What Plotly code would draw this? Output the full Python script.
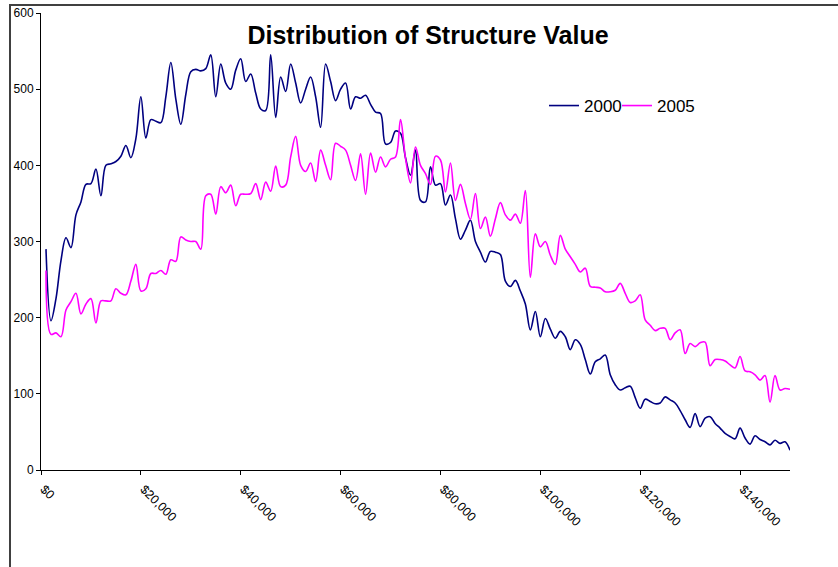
import plotly.graph_objects as go

# Structure value (thousands of dollars)
values_k = list(range(1, 151))

series_2000 = [
    290, 196, 225, 275, 305, 292, 335, 352, 375, 376,
    395, 360, 400, 402, 405, 412, 426, 410, 435, 490,
    436, 460, 458, 456, 490, 535, 487, 454, 493, 523,
    526, 524, 527, 545, 490, 533, 508, 500, 525, 540,
    510, 520, 495, 474, 472, 545, 463, 516, 497, 533,
    508, 482, 500, 516, 490, 450, 533, 510, 485, 500,
    508, 474, 490, 488, 492, 480, 470, 468, 428, 430,
    445, 442, 410, 387, 420, 354, 352, 398, 374, 376,
    348, 361, 330, 303, 315, 328, 300, 286, 273, 287,
    286, 283, 248, 241, 249, 235, 218, 184, 208, 175,
    199, 185, 173, 182, 175, 158, 171, 165, 145, 126,
    142, 146, 151, 125, 112, 105, 108, 110, 95, 81,
    93, 90, 87, 88, 96, 92, 88, 78, 66, 56,
    74, 57, 68, 70, 61, 55, 48, 44, 41, 55,
    42, 34, 45, 40, 37, 33, 39, 35, 37, 26,
]

series_2005 = [
    262, 178, 180, 175, 210, 221, 232, 205, 218, 225,
    193, 222, 222, 222, 238, 232, 230, 248, 270, 235,
    238, 258, 258, 262, 257, 276, 274, 306, 302, 300,
    300, 290, 360, 362, 336, 372, 364, 374, 347, 362,
    362, 363, 376, 355, 378, 366, 399, 372, 374, 411,
    438, 400, 392, 403, 379, 420, 400, 381, 429, 425,
    420, 400, 380, 415, 362, 416, 391, 411, 398, 408,
    411, 460, 409, 377, 424, 400, 389, 375, 412, 407,
    365, 403, 354, 375, 350, 329, 363, 317, 332, 307,
    330, 351, 335, 328, 336, 324, 367, 253, 310, 293,
    300, 282, 270, 308, 290, 280, 270, 260, 265, 241,
    240, 239, 234, 234, 236, 245, 232, 220, 222, 230,
    197, 190, 183, 186, 186, 171, 180, 184, 153, 166,
    162, 167, 168, 137, 145, 145, 143, 138, 134, 149,
    130, 129, 125, 118, 124, 89, 124, 105, 107, 106,
]

x_tick_values = [0, 20000, 40000, 60000, 80000, 100000, 120000, 140000]
x_tick_labels = ["$0", "$20,000", "$40,000", "$60,000", "$80,000",
                 "$100,000", "$120,000", "$140,000"]
y_tick_values = [0, 100, 200, 300, 400, 500, 600]

x_dollars = [k * 1000 for k in values_k]

fig = go.Figure()
fig.add_trace(go.Scatter(
    x=x_dollars, y=series_2000, name="2000", mode="lines",
    line=dict(color="#000080", width=1.6, shape="spline", smoothing=1),
    legend="legend",
))
fig.add_trace(go.Scatter(
    x=x_dollars, y=series_2005, name="2005", mode="lines",
    line=dict(color="#FF00FF", width=1.6, shape="spline", smoothing=1),
    legend="legend2",
))

W, H = 838, 567
L, R, T, B = 41, 790, 13, 470
pw, ph = R - L, B - T


def px_x(px):
    return (px - L) / pw


def px_y(py):
    return (B - py) / ph


legend_common = dict(
    orientation="h",
    yanchor="middle",
    y=px_y(106),
    xanchor="left",
    font=dict(size=17, color="black"),
    bgcolor="rgba(0,0,0,0)",
    itemwidth=30,
)

fig.update_layout(
    width=W, height=H,
    margin=dict(l=L, r=W - R, t=T, b=H - B, pad=0, autoexpand=False),
    paper_bgcolor="white", plot_bgcolor="white",
    font=dict(family="Liberation Sans, Arial, sans-serif", color="black", size=12),
    title=dict(
        text="<b>Distribution of Structure Value</b>",
        font=dict(size=25, color="black"),
        x=428 / W, xanchor="center", xref="container",
        y=1 - 35 / H, yanchor="middle", yref="container",
    ),
    showlegend=True,
    legend=dict(x=px_x(544), **legend_common),
    legend2=dict(x=px_x(617), **legend_common),
    xaxis=dict(
        range=[0, 150000],
        tickvals=x_tick_values,
        ticktext=x_tick_labels,
        tickangle=45,
        ticks="outside", ticklen=4, tickcolor="black",
        ticklabelstandoff=2, ticklabelshift=3,
        showline=True, linecolor="black", linewidth=1,
        showgrid=False, zeroline=False, automargin=False,
        tickfont=dict(size=12.5, color="black"),
    ),
    yaxis=dict(
        range=[0, 600],
        tickvals=y_tick_values,
        ticks="outside", ticklen=4, tickcolor="black",
        showline=True, linecolor="black", linewidth=1,
        showgrid=False, zeroline=False, automargin=False,
        tickfont=dict(size=12, color="black"),
    ),
    shapes=[
        dict(type="line", xref="paper", yref="paper", layer="above",
             x0=px_x(10), x1=px_x(10), y0=px_y(4), y1=px_y(700),
             line=dict(color="#404040", width=2)),
        dict(type="line", xref="paper", yref="paper", layer="above",
             x0=px_x(9), x1=px_x(900), y0=px_y(5), y1=px_y(5),
             line=dict(color="#404040", width=2)),
    ],
)

fig.write_html(
    "out.html",
    config={"displayModeBar": False},
    post_script="document.body.style.margin='0';document.body.style.overflow='hidden';",
)
